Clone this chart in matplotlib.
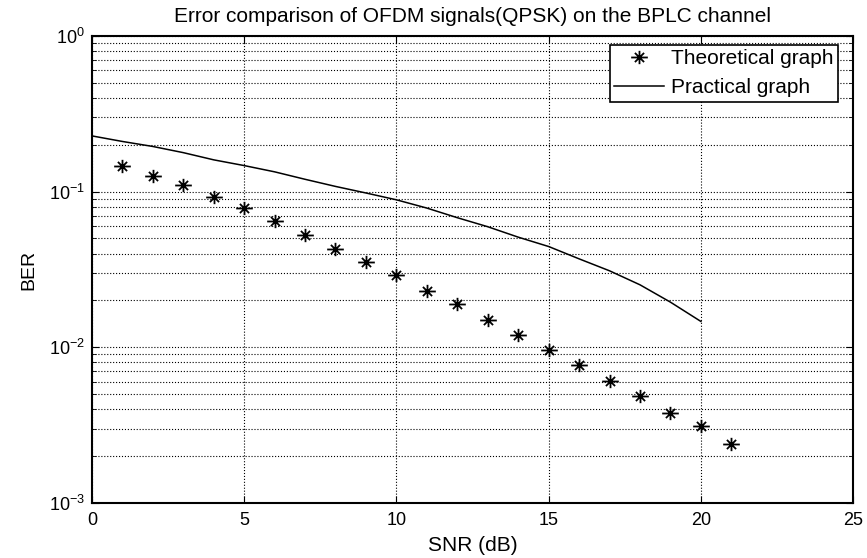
import numpy as np
import matplotlib
matplotlib.use('Agg')
import matplotlib.pyplot as plt
from matplotlib.path import Path
from matplotlib.ticker import LogLocator, FixedLocator, NullFormatter

plt.rcParams['font.family'] = ['Liberation Sans', 'DejaVu Sans']
plt.rcParams['mathtext.fontset'] = 'custom'
plt.rcParams['mathtext.rm'] = 'Liberation Sans'
plt.rcParams['mathtext.it'] = 'Liberation Sans:italic'

# values
snr_theory = [1, 2, 3, 4, 5, 6, 7, 8, 9, 10, 11, 12, 13, 14, 15, 16, 17, 18, 19, 20, 21]
ber_theory = [0.1465, 0.126, 0.110, 0.0917, 0.078, 0.0647, 0.0528, 0.0431, 0.0353,
              0.029, 0.0231, 0.019, 0.0150, 0.0120, 0.0096, 0.0077, 0.0061, 0.0049,
              0.0038, 0.0031, 0.0024]
snr_practical = [0, 1, 2, 3, 4, 5, 6, 7, 8, 9, 10, 11, 12, 13, 14, 15, 16, 17, 18, 19, 20]
ber_practical = [0.228, 0.21, 0.195, 0.178, 0.16, 0.147, 0.134, 0.12, 0.108, 0.098,
                 0.0886, 0.0784, 0.068, 0.0595, 0.051, 0.0444, 0.037, 0.031, 0.0252,
                 0.0195, 0.01466]

# matlab-like asterisk, a bit wider than tall
star = Path([(-1, 0), (1, 0), (0, -0.8), (0, 0.8),
             (-0.55, -0.55), (0.55, 0.55), (-0.55, 0.55), (0.55, -0.55)],
            [Path.MOVETO, Path.LINETO] * 4)

fig = plt.figure(figsize=(8.67, 5.58), dpi=100)
ax = fig.add_axes([0.106, 0.0986, 0.878, 0.837])

ax.semilogy(snr_theory, ber_theory, linestyle='none', marker=star,
            markersize=12, markeredgewidth=1.3, markerfacecolor='none',
            color='black', label='Theoretical graph')
ax.semilogy(snr_practical, ber_practical, color='black', linewidth=1.1,
            label='Practical graph')

ax.set_xlim(0, 25)
ax.set_ylim(1e-3, 1)
ax.set_xticks([0, 5, 10, 15, 20, 25])
ax.yaxis.set_major_locator(FixedLocator([1e-3, 1e-2, 1e-1, 1e0]))
ax.yaxis.set_minor_locator(LogLocator(base=10, subs=np.arange(2, 10)))
ax.yaxis.set_minor_formatter(NullFormatter())

ax.grid(True, which='major', axis='x', color='black', linestyle=':', linewidth=0.8)
ax.grid(True, which='both', axis='y', color='black', linestyle=':', linewidth=0.8)

ax.tick_params(which='both', direction='in', top=True, right=True, labelsize=13)
ax.tick_params(which='major', length=5)
ax.tick_params(which='minor', length=3)
ax.tick_params(axis='x', pad=6.5)
ax.tick_params(axis='y', pad=5)
for s in ax.spines.values():
    s.set_linewidth(1.5)

ax.set_xlabel('SNR (dB)', fontsize=15, labelpad=5)
ax.set_ylabel('BER', fontsize=14, labelpad=8)
ax.set_title('Error comparison of OFDM signals(QPSK) on the BPLC channel', fontsize=15, pad=10)

leg = ax.legend(loc='upper right', bbox_to_anchor=(0.98, 0.981), borderaxespad=0,
                fontsize=15, fancybox=False, framealpha=1, edgecolor='black',
                handlelength=2.4, handletextpad=0.35, labelspacing=0.5, borderpad=0.2)
leg.get_frame().set_linewidth(1.2)

fig.savefig('out.png', dpi=100)
